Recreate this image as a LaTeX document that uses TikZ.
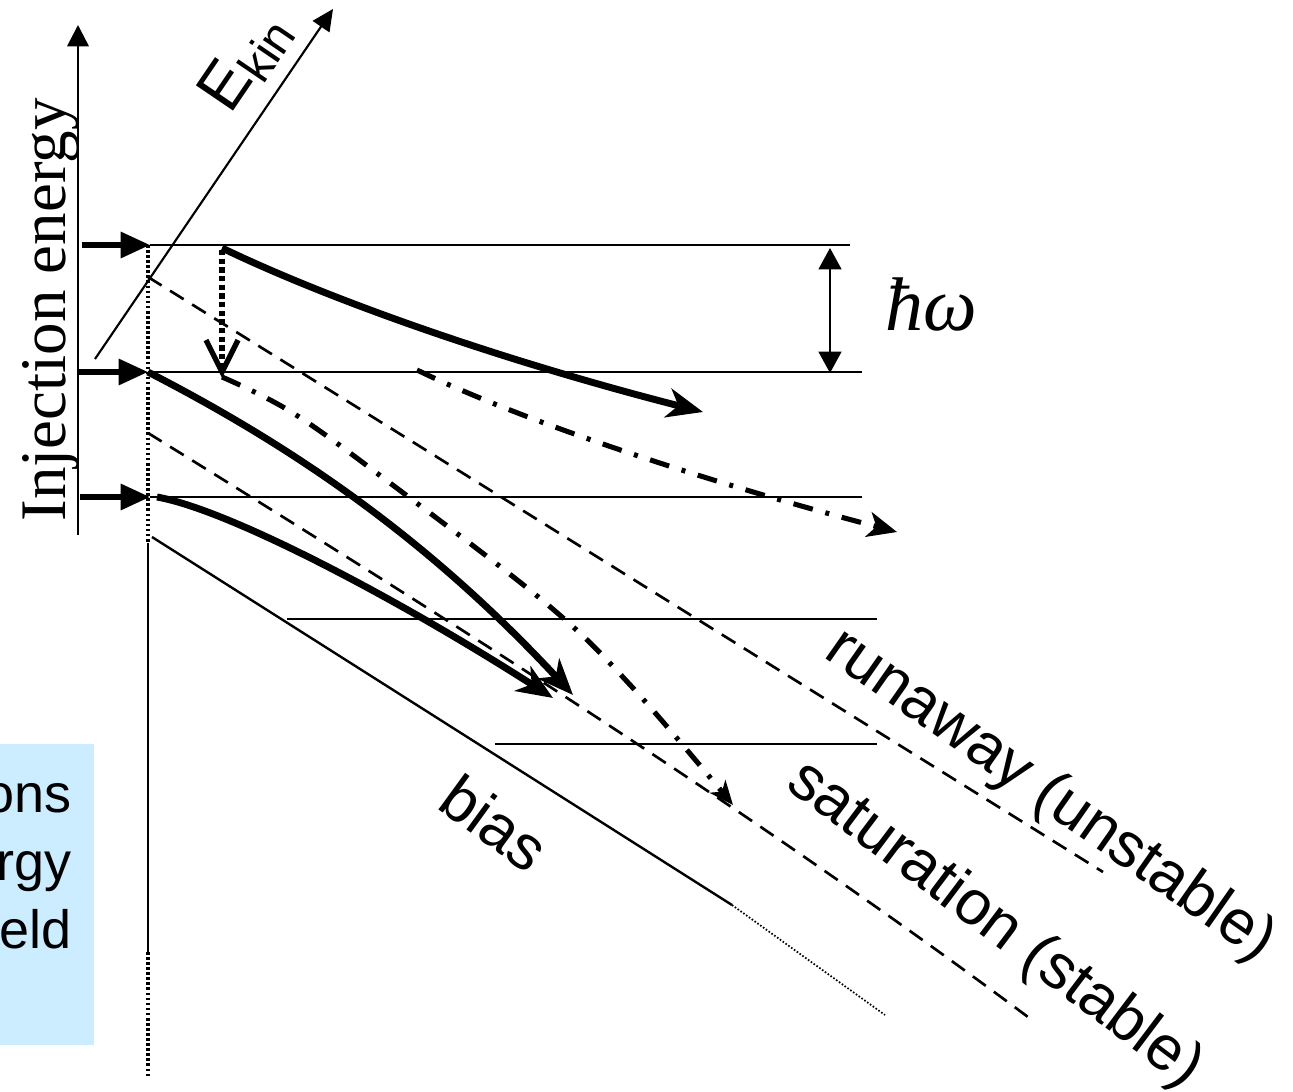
\documentclass[tikz,border=0pt]{standalone}
\usepackage{fontspec}
\setmainfont{Liberation Serif}
\setsansfont{Liberation Sans}
\usetikzlibrary{arrows.meta}
\definecolor{boxblue}{RGB}{204,236,255}
\begin{document}
\begin{tikzpicture}[x=0.75pt,y=-0.75pt,
  thinline/.style={line width=1.8pt},
  fatline/.style={line width=5.2pt},
  inarrow/.style={line width=4pt,-{Triangle[length=22pt,width=19pt]}},
  axisarrow/.style={line width=2pt,-{Triangle[length=16pt,width=16pt]}},
  dashline/.style={line width=2pt,dash pattern=on 12pt off 7.5pt},
  dashdot/.style={line width=3.8pt,dash pattern=on 15pt off 9.75pt on 3pt off 9.75pt},
  dotv/.style={line width=2.3pt,dash pattern=on 2pt off 1.8pt},
  bigtip/.style={-{Stealth[length=27pt,width=22pt,inset=8pt]}},
  lbl/.style={font=\sffamily\fontsize{47}{56}\selectfont,inner sep=0pt},
  boxtxt/.style={font=\sffamily\fontsize{40.5}{48}\selectfont,inner sep=0pt,anchor=base east}
]
\useasboundingbox (0,0) rectangle (1293,1092);
% blue box with cut-off text
\fill[boxblue] (0,744) rectangle (94,1045);
\begin{scope}
\clip (0,744) rectangle (94,1045);
\node[boxtxt] (t1) at (72,812) {ons};
\node[boxtxt] (t2) at (72,880) {rgy};
\node[boxtxt] (t3) at (72,948) {eld};
\end{scope}
% coordinates
\coordinate (yaxB) at (78,535);
\coordinate (yaxT) at (78,25);
\coordinate (ekB) at (95,359);
\coordinate (ekT) at (333,9);
\coordinate (a1s) at (82,245);  \coordinate (a1e) at (150,245);
\coordinate (a2s) at (78,372);  \coordinate (a2e) at (148,372);
\coordinate (a3s) at (80,497);  \coordinate (a3e) at (150,497);
\coordinate (h1e) at (850,245);
\coordinate (h2e) at (862,372);
\coordinate (h3e) at (862,497);
\coordinate (h4s) at (287,619); \coordinate (h4e) at (877,619);
\coordinate (h5s) at (495,744); \coordinate (h5e) at (877,744);
\coordinate (hwT) at (830,248); \coordinate (hwB) at (830,373);
\coordinate (v0) at (148,245); \coordinate (v1) at (148,543);
\coordinate (v2) at (148,952); \coordinate (v3) at (148,1078);
\coordinate (b0) at (152,537); \coordinate (b1) at (732,905); \coordinate (b2) at (885,1015);
\coordinate (r0) at (148,277); \coordinate (r1) at (1103,872);
\coordinate (s0) at (148,433); \coordinate (s1) at (1028,1017);
\coordinate (p1s) at (222,248); \coordinate (p1e) at (703,412);
\coordinate (p2e) at (573,695);
\coordinate (p3s) at (157,497); \coordinate (p3e) at (553,698);
\coordinate (drs) at (222,250); \coordinate (dre) at (222,378);
\coordinate (dd2s) at (417,370); \coordinate (dd2e) at (897,532);
% axes
\draw[axisarrow] (yaxB) -- (yaxT);
\node[rotate=90,anchor=base,font=\fontsize{48.75}{58}\selectfont,inner sep=0pt] (ylab) at (65,310) {Injection energy};
\draw[line width=1.6pt,-{Triangle[length=16pt,width=15pt]}] (ekB) -- (ekT);
\node[rotate=55.8,anchor=base west,font=\sffamily\fontsize{49}{56}\selectfont,inner sep=0pt] (ekin) at (230,116) {E\raisebox{-8pt}{\fontsize{36}{40}\selectfont kin}};
% levels
\draw[thinline] (a1e) -- (h1e);
\draw[thinline] (a2e) -- (h2e);
\draw[thinline] (a3e) -- (h3e);
\draw[thinline] (h4s) -- (h4e);
\draw[thinline] (h5s) -- (h5e);
\draw[inarrow] (a1s) -- (a1e);
\draw[inarrow] (a2s) -- (a2e);
\draw[inarrow] (a3s) -- (a3e);
% hbar omega
\draw[line width=1.8pt,{Triangle[length=16pt,width=17pt]}-{Triangle[length=16pt,width=17pt]}] (hwT) -- (hwB);
\node[anchor=base,font=\itshape\fontsize{57}{64}\selectfont,inner sep=0pt] (hw) at (931,330) {ħω};
% vertical reference line
\draw[dotv] (v0) -- (v1);
\draw[line width=2.1pt] (v1) -- (v2);
\draw[dotv] (v2) -- (v3);
% bias
\draw[thinline] (b0) -- (b1);
\draw[line width=1.3pt,dash pattern=on 1.2pt off 1.4pt] (b1) -- (b2);
\node[lbl,rotate=-36] (bias) at (495,823) {bias};
% dashed limits
\draw[dashline] (r0) -- (r1);
\draw[dashline] (s0) .. controls (450,620) and (750,810) .. (s1);
\node[lbl,rotate=-35] (run) at (1050,796) {runaway (unstable)};
\node[lbl,rotate=-37] (sat) at (995,925) {saturation (stable)};
% thick trajectories
\draw[fatline,bigtip] (p1s) .. controls (330,300) and (500,360) .. (p1e);
\draw[fatline,bigtip] (a2e) .. controls (280,440) and (420,530) .. (p2e);
\draw[fatline,bigtip] (p3s) .. controls (230,510) and (400,600) .. (p3e);
% dotted drop with open head
\draw[line width=4pt,dash pattern=on 4pt off 2.5pt,-{Straight Barb[length=24pt,width=24pt]}] (drs) -- (dre);
% dash-dot trajectories
\draw[dashdot,-{Stealth[length=18pt,width=15pt,inset=5pt]}] plot[smooth,tension=0.6] coordinates {(222,377) (293,413) (390,483) (548,605) (633,688) (733,805)};
\draw[dashdot,-{Stealth[length=22pt,width=19pt,inset=6pt]}] (dd2s) .. controls (520,420) and (700,480) .. (dd2e);
\end{tikzpicture}
\end{document}
